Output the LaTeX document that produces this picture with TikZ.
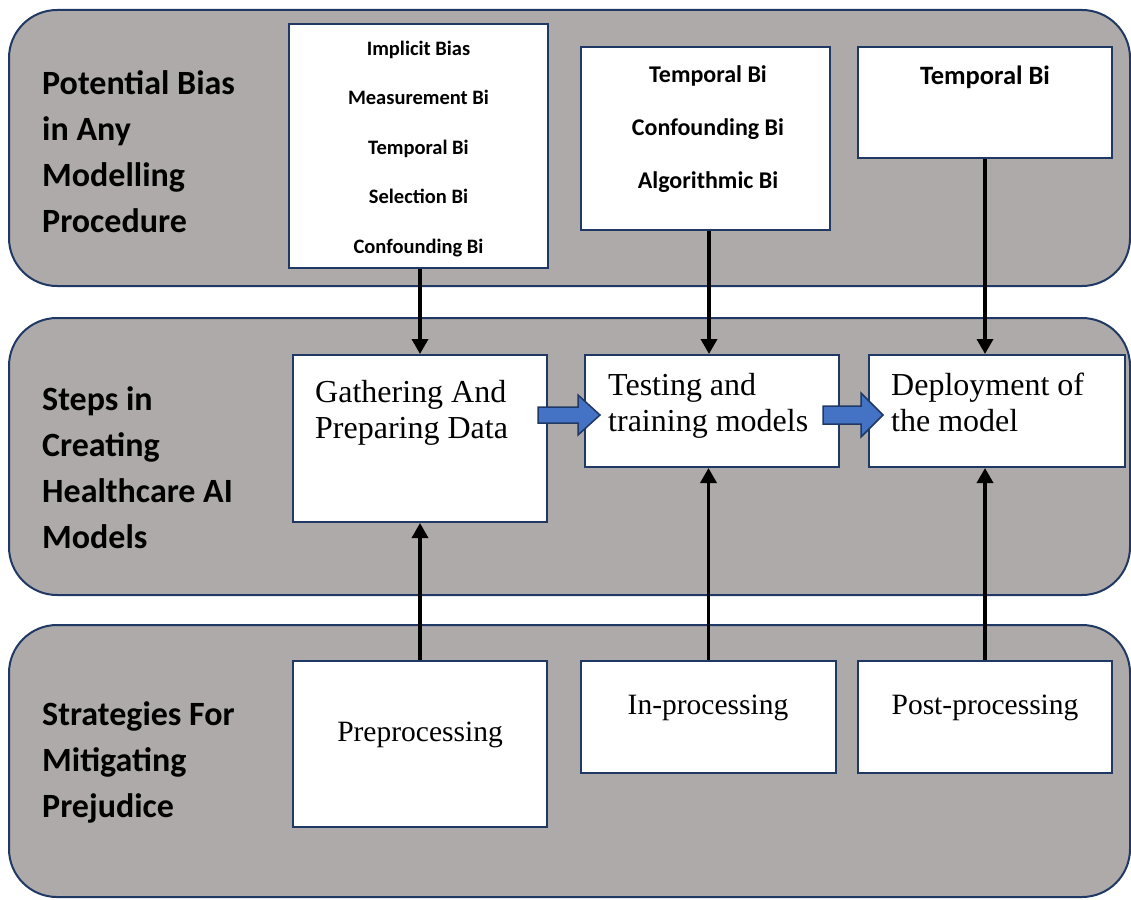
\documentclass[tikz,border=0pt]{standalone}
\usepackage{fontspec}
\setmainfont{Liberation Serif}
\newfontfamily\calfont{Carlito}
\usetikzlibrary{arrows.meta}
\definecolor{panelgray}{HTML}{AEAAAA}
\definecolor{navy}{HTML}{1F3864}
\definecolor{blockblue}{HTML}{4472C4}
\begin{document}
\begin{tikzpicture}[x=1pt,y=-1pt,
  panel/.style={draw=navy,line width=2pt,fill=panelgray,rounded corners=48pt},
  box/.style={draw=navy,line width=2pt,fill=white,inner sep=0pt},
  side/.style={font=\calfont\bfseries\fontsize{34}{46}\selectfont,align=left,anchor=west,inner sep=0pt},
  bias/.style={align=center,inner sep=0pt},
  stxt/.style={font=\fontsize{32}{36}\selectfont,align=left,anchor=base west,inner sep=0pt},
  ptxt/.style={font=\fontsize{29.5}{34}\selectfont,inner sep=0pt},
  arr/.style={line width=3.5pt,-{Triangle[length=15pt,width=16pt]}},
  blk/.style={draw=navy,line width=1.5pt,fill=blockblue,line join=miter}
]
\useasboundingbox (0,0) rectangle (1131,899);
% panels
\draw[panel] (9,10) rectangle (1130,286);
\draw[panel] (9,318) rectangle (1130,595);
\draw[panel] (9,625) rectangle (1130,897);
% side labels
\node[side] (l1) at (42,152) {Potential Bias\\in Any\\Modelling\\Procedure};
\node[side] (l2) at (42,468) {Steps in\\Creating\\Healthcare AI\\Models};
\node[side] (l3) at (42,762) {Strategies For\\Mitigating\\Prejudice};
% top boxes
\node[box,minimum width=259pt,minimum height=244pt] (ba) at (418.5,146) {};
\node[box,minimum width=249pt,minimum height=183pt] (bb) at (705.5,138.5) {};
\node[box,minimum width=254pt,minimum height=111pt] (bc) at (985,102.5) {};
\node[bias,font=\calfont\bfseries\fontsize{20.5}{49.5}\selectfont] (ta) at (418.5,149) {Implicit Bias\\Measurement Bi\\Temporal Bi\\Selection Bi\\Confounding Bi};
\node[bias,font=\calfont\bfseries\fontsize{24}{53}\selectfont] (tb) at (708,129) {Temporal Bi\\Confounding Bi\\Algorithmic Bi};
\node[bias,font=\calfont\bfseries\fontsize{26.5}{30}\selectfont] (tc) at (985,77) {Temporal Bi};
% middle boxes
\node[box,minimum width=254pt,minimum height=167pt] (s1) at (420,438.5) {};
\node[box,minimum width=254pt,minimum height=112pt] (s2) at (712,411) {};
\node[box,minimum width=256pt,minimum height=112pt] (s3) at (997,411) {};
\node[stxt] (t1) at (315,438) {Gathering And\\Preparing Data};
\node[stxt] (t2) at (608,431) {Testing and\\training models};
\node[stxt] (t3) at (891,431) {Deployment of\\the model};
% bottom boxes
\node[box,minimum width=254pt,minimum height=166pt] (p1) at (420,744) {};
\node[box,minimum width=255pt,minimum height=112pt] (p2) at (708.5,717) {};
\node[box,minimum width=254pt,minimum height=112pt] (p3) at (985,717) {};
\node[ptxt] (u1) at (420,735) {Preprocessing};
\node[ptxt] (u2) at (708,708) {In-processing};
\node[ptxt] (u3) at (985,708) {Post-processing};
% vertical arrows
\draw[arr] (ba.south -| s1.north) -- (s1.north);
\draw[arr] (bb.south) ++(3.5,0) coordinate (bbs) -- (bbs |- s2.north);
\draw[arr] (bc.south) -- (bc.south |- s3.north);
\draw[arr] (p1.north) -- (p1.north |- s1.south);
\draw[arr] (p2.north) -- (p2.north |- s2.south);
\draw[arr] (p3.north) -- (p3.north |- s3.south);
% block arrows
\draw[blk] (538,407) -- (578,407) -- (578,395) -- (600,415) -- (578,435) -- (578,423) -- (538,423) -- cycle;
\draw[blk] (823,406) -- (861,406) -- (861,393) -- (883,415) -- (861,437) -- (861,424) -- (823,424) -- cycle;
\end{tikzpicture}
\end{document}
